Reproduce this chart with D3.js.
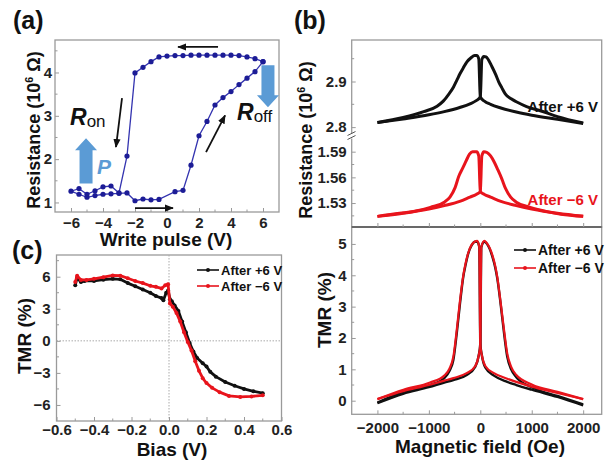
<!DOCTYPE html>
<html><head><meta charset="utf-8">
<script src="https://cdn.jsdelivr.net/npm/d3@7"></script>
<style>
body{margin:0;background:#fff}
text{font-family:"Liberation Sans",Arial,sans-serif;font-weight:bold}
</style>
</head><body>
<script>
// (a) write pulse loop, in sweep order
var pulseV = [6,5.5,5,4.5,4,3.5,3,2.5,2,1.5,1,0.5,0,-0.5,-1,-1.5,-2,-2.5,-3,-3.5,-4,-4.5,-5,-5.5,-6,
  -5.5,-5,-4.5,-4,-3.5,-3,-2.5,-2,-1.5,-1,-0.5,0.5,1,1.5,2,2.5,3,3.5,4,4.5,5,5.5,6];
var pulseR = [4.25,4.32,4.36,4.39,4.40,4.40,4.40,4.40,4.40,4.40,4.39,4.39,4.38,4.36,4.25,4.12,3.99,2.07,1.22,1.38,1.36,1.27,1.19,1.32,1.26,
  1.19,1.12,1.16,1.19,1.2,1.21,1.22,1.04,1.08,1.06,1.07,1.25,1.28,1.86,2.54,2.87,3.25,3.42,3.56,3.72,3.87,4.02,4.25];
var pulseTicks = [-6,-4,-2,0,2,4,6];
var resTicksA = [1,2,3,4];

// (b) resistance vs field, [H (Oe), R (10^6 ohm)]
var resPlusDown = [[2000,2.808],[1500,2.817],[1000,2.826],[700,2.833],[400,2.842],[200,2.850],[80,2.857],[0,2.866],[-30,2.950],[-70,2.957],[-110,2.957],[-180,2.952],[-260,2.943],[-330,2.930],[-390,2.918],[-455,2.903],[-520,2.888],[-615,2.872],[-720,2.857],[-840,2.846],[-1100,2.834],[-1500,2.821],[-2000,2.810]];
var resPlusUp = [[-2000,2.810],[-1500,2.818],[-1000,2.827],[-700,2.834],[-400,2.843],[-200,2.851],[-80,2.858],[0,2.866],[30,2.948],[70,2.955],[110,2.954],[225,2.933],[300,2.915],[355,2.900],[420,2.886],[485,2.873],[600,2.862],[710,2.855],[900,2.845],[1165,2.836],[1500,2.823],[2000,2.809]];
var resMinusDown = [[2000,1.5145],[1500,1.518],[1000,1.523],[700,1.527],[400,1.532],[200,1.537],[80,1.540],[0,1.5435],[-30,1.585],[-70,1.590],[-150,1.590],[-210,1.587],[-270,1.580],[-340,1.571],[-420,1.561],[-490,1.548],[-590,1.537],[-700,1.531],[-970,1.525],[-1300,1.520],[-1570,1.518],[-2000,1.5144]];
var resMinusUp = [[-2000,1.5144],[-1500,1.518],[-1000,1.523],[-700,1.527],[-400,1.532],[-200,1.537],[-80,1.540],[0,1.5435],[30,1.585],[70,1.590],[130,1.589],[200,1.585],[270,1.578],[340,1.569],[420,1.558],[490,1.547],[590,1.537],[700,1.531],[970,1.525],[1300,1.520],[1570,1.517],[2000,1.5145]];
var resTicksUp = [2.8,2.9];
var resTicksLo = [1.53,1.56,1.59];

// (b) TMR vs field, [H (Oe), TMR (%)]
var tmrPlusDown = [[2000,-0.15],[1500,0.12],[1000,0.35],[700,0.5],[524,0.6],[265,0.8],[100,1.05],[30,1.45],[0,1.83],[-20,4.9],[-60,5.07],[-103,5.07],[-170,4.95],[-233,4.7],[-290,4.3],[-330,3.96],[-394,3.11],[-458,2.15],[-524,1.3],[-600,0.95],[-700,0.72],[-976,0.5],[-1495,0.28],[-2000,-0.06]];
var tmrPlusUp = [[-2000,-0.08],[-1500,0.22],[-1000,0.43],[-700,0.58],[-524,0.66],[-265,0.82],[-100,1.08],[-30,1.45],[0,1.83],[20,4.9],[80,5.07],[120,5.02],[180,4.85],[233,4.6],[290,4.25],[330,3.9],[394,3.1],[458,2.2],[524,1.4],[600,1.0],[700,0.75],[1000,0.43],[1500,0.15],[2000,-0.12]];
var tmrMinusDown = [[2000,0.05],[1500,0.25],[1000,0.45],[700,0.6],[524,0.7],[265,0.88],[100,1.1],[30,1.45],[0,1.8],[-20,4.9],[-60,5.1],[-103,5.08],[-170,4.97],[-233,4.72],[-290,4.35],[-330,4.0],[-394,3.2],[-458,2.25],[-524,1.4],[-600,1.02],[-700,0.8],[-976,0.58],[-1495,0.35],[-2000,0.05]];
var tmrMinusUp = [[-2000,0.05],[-1500,0.3],[-1000,0.5],[-700,0.64],[-524,0.72],[-265,0.88],[-100,1.1],[-30,1.45],[0,1.8],[20,4.9],[80,5.1],[120,5.04],[180,4.88],[233,4.65],[290,4.3],[330,3.95],[394,3.15],[458,2.3],[524,1.5],[600,1.08],[700,0.82],[1000,0.52],[1500,0.28],[2000,0.05]];
var fieldTicks = [-2000,-1000,0,1000,2000];
var tmrTicksB = [0,1,2,3,4,5];

// (c) TMR vs bias, [V, %]
var biasPlus = [[-0.5,5.2],[-0.49,5.9],[-0.47,5.5],[-0.45,5.6],[-0.4,5.6],[-0.35,5.72],[-0.3,5.8],[-0.26,5.75],[-0.22,5.4],[-0.18,5.1],[-0.14,4.8],[-0.1,4.5],[-0.07,4.2],[-0.04,4.0],[-0.03,3.8],[-0.015,4.5],[-0.005,4.7],[0.005,3.9],[0.015,3.7],[0.03,3.3],[0.05,2.8],[0.07,1.8],[0.09,0.8],[0.11,-0.2],[0.13,-1.0],[0.15,-1.6],[0.18,-2.1],[0.2,-2.4],[0.22,-2.9],[0.25,-3.35],[0.3,-3.85],[0.35,-4.2],[0.4,-4.5],[0.45,-4.72],[0.5,-4.9]];
var biasMinus = [[-0.5,5.5],[-0.49,6.1],[-0.47,5.7],[-0.44,5.7],[-0.4,5.8],[-0.35,5.95],[-0.3,6.12],[-0.26,6.1],[-0.22,5.85],[-0.18,5.6],[-0.14,5.4],[-0.1,5.15],[-0.07,5.05],[-0.04,4.9],[-0.02,5.2],[-0.005,5.3],[0.005,3.5],[0.02,3.2],[0.04,2.6],[0.06,1.8],[0.08,0.8],[0.1,-0.1],[0.12,-0.9],[0.14,-1.9],[0.16,-2.8],[0.18,-3.5],[0.2,-3.95],[0.23,-4.4],[0.27,-4.8],[0.32,-5.15],[0.38,-5.25],[0.44,-5.2],[0.5,-5.1]];
var biasTicks = [-0.6,-0.4,-0.2,0,0.2,0.4,0.6];
var tmrTicksC = [-6,-3,0,3,6];

var legendNames = ["After +6 V", "After \u22126 V"];
var colBlack = "#111", colRed = "#e8141c", colBlue = "#1c1c96", colArrow = "#5b9bd5";

var svg = d3.select("body").append("svg").attr("width", 615).attr("height", 464);
var fmtInt = function(v){ return d3.format("d")(v).replace("-", "\u2212"); };

function frame(x0, y0, x1, y1) {
  svg.append("rect").attr("x", x0).attr("y", y0).attr("width", x1 - x0).attr("height", y1 - y0)
    .attr("fill", "none").attr("stroke", "#9a9a9a").attr("stroke-width", 1.3);
}
function ticks(axis, g, pad, fs) {
  g.call(axis.tickSize(-4).tickPadding(pad));
  g.select(".domain").remove();
  g.selectAll("line").attr("stroke", "#9a9a9a");
  g.selectAll("text").attr("font-size", fs || 15).attr("fill", "#222").style("font-weight", "bold");
}
function minor(scale, vals, orient, pos) {
  vals.forEach(function(v) {
    var p = scale(v);
    if (orient === "x") svg.append("line").attr("x1", p).attr("x2", p).attr("y1", pos).attr("y2", pos - 2.5).attr("stroke", "#9a9a9a");
    else svg.append("line").attr("y1", p).attr("y2", p).attr("x1", pos).attr("x2", pos + 2.5).attr("stroke", "#9a9a9a");
  });
}
function label(x, y, size, rot) {
  return svg.append("text").attr("font-size", size).attr("text-anchor", "middle").attr("fill", "#111")
    .attr("transform", "translate(" + x + "," + y + ")" + (rot ? " rotate(-90)" : ""));
}
function resLabel(x, y, size) {
  var t = label(x, y, size, true);
  t.append("tspan").text("Resistance (10");
  t.append("tspan").text("6").attr("dy", -7).attr("font-size", size * 0.6);
  t.append("tspan").text(" \u03a9)").attr("dy", 7);
}
svg.append("defs").append("marker").attr("id", "ah").attr("viewBox", "0 0 10 10").attr("refX", 9).attr("refY", 5)
  .attr("markerWidth", 5).attr("markerHeight", 5).attr("orient", "auto")
  .append("path").attr("d", "M0,1 L10,5 L0,9 Z").attr("fill", "#111");

// ---------- (a) ----------
var xa = d3.scaleLinear().domain([-7, 7]).range([55, 279]);
var ya = d3.scaleLinear().domain([0.78, 4.75]).range([212, 40]);
frame(55, 40, 279, 212);
ticks(d3.axisBottom(xa).tickValues(pulseTicks).tickFormat(fmtInt), svg.append("g").attr("transform", "translate(0,212)"), 5);
ticks(d3.axisLeft(ya).tickValues(resTicksA).tickFormat(fmtInt), svg.append("g").attr("transform", "translate(55,0)"), 3);
minor(xa, [-5,-3,-1,1,3,5], "x", 212);
minor(ya, [1.5,2.5,3.5,4.5], "y", 55);

var pulsePts = pulseV.map(function(v, i){ return [v, pulseR[i]]; });
svg.append("path").datum(pulsePts).attr("fill", "none").attr("stroke", "#3434b0").attr("stroke-width", 1.3)
  .attr("d", d3.line().x(function(d){ return xa(d[0]); }).y(function(d){ return ya(d[1]); }));
svg.append("g").selectAll("circle").data(pulsePts).enter().append("circle")
  .attr("cx", function(d){ return xa(d[0]); }).attr("cy", function(d){ return ya(d[1]); })
  .attr("r", 2.6).attr("fill", colBlue);

// black sweep arrows
[[3.19,4.59,0.69,4.59],[-2,0.87,0.375,0.87],[-2.81,3.41,-3.19,2.28],[2.44,2.16,3.63,3.01]].forEach(function(a){
  svg.append("line").attr("x1", xa(a[0])).attr("y1", ya(a[1])).attr("x2", xa(a[2])).attr("y2", ya(a[3]))
    .attr("stroke", "#111").attr("stroke-width", 1.8).attr("marker-end", "url(#ah)");
});
// fat blue arrows
function fatArrow(xc, yFrom, yTo) {
  var x = xa(xc), y0 = ya(yFrom), y1 = ya(yTo), dir = y1 < y0 ? -1 : 1, hl = 12;
  var pts = [[x-6.5,y0],[x+6.5,y0],[x+6.5,y1-dir*hl],[x+11,y1-dir*hl],[x,y1],[x-11,y1-dir*hl],[x-6.5,y1-dir*hl]];
  svg.append("polygon").attr("points", pts.map(function(p){ return p.join(","); }).join(" ")).attr("fill", colArrow);
}
fatArrow(-5.06, 1.44, 2.48);
fatArrow(6.31, 4.17, 3.2);
var ron = svg.append("text").attr("x", 70).attr("y", 125).attr("font-size", 23).attr("fill", "#111");
ron.append("tspan").text("R").style("font-style", "italic");
ron.append("tspan").text("on").attr("dy", 2).attr("font-size", 17).style("font-weight", "normal");
var roff = svg.append("text").attr("x", 237).attr("y", 120).attr("font-size", 23).attr("fill", "#111");
roff.append("tspan").text("R").style("font-style", "italic");
roff.append("tspan").text("off").attr("dy", 2).attr("font-size", 17).style("font-weight", "normal");
svg.append("text").attr("x", 97).attr("y", 174).attr("font-size", 21).attr("fill", colArrow).style("font-style", "italic").text("P");

resLabel(40, 130, 18);
label(166, 246, 19, false).text("Write pulse (V)");

// ---------- (b) ----------
var xb = d3.scaleLinear().domain([-2500, 2360]).range([351.7, 601.7]);
var ybUp = d3.scaleLinear().domain([2.779, 2.991]).range([136.7, 40]);
var ybLo = d3.scaleLinear().domain([1.502, 1.6075]).range([227, 136.7]);
var ybT = d3.scaleLinear().domain([-0.434, 5.54]).range([414.3, 227]);
frame(351.7, 40, 601.7, 227);
frame(351.7, 227, 601.7, 414.3);
svg.append("line").attr("x1", 351.7).attr("x2", 601.7).attr("y1", 227).attr("y2", 227).attr("stroke", "#555").attr("stroke-width", 1.5);
ticks(d3.axisLeft(ybUp).tickValues(resTicksUp).tickFormat(d3.format(".1f")), svg.append("g").attr("transform", "translate(351.7,0)"), 5);
ticks(d3.axisLeft(ybLo).tickValues(resTicksLo).tickFormat(d3.format(".2f")), svg.append("g").attr("transform", "translate(351.7,0)"), 5);
ticks(d3.axisLeft(ybT).tickValues(tmrTicksB).tickFormat(fmtInt), svg.append("g").attr("transform", "translate(351.7,0)"), 5);
ticks(d3.axisBottom(xb).tickValues(fieldTicks).tickFormat(fmtInt), svg.append("g").attr("transform", "translate(0,414.3)"), 8);
ticks(d3.axisBottom(xb).tickValues(fieldTicks).tickFormat(""), svg.append("g").attr("transform", "translate(0,227)"), 4);
minor(xb, [-1500,-500,500,1500], "x", 414.3);
minor(xb, [-1500,-500,500,1500], "x", 227);
minor(ybUp, [2.85, 2.95], "y", 351.7);
minor(ybLo, [1.515, 1.545, 1.575], "y", 351.7);
minor(ybT, [0.5,1.5,2.5,3.5,4.5], "y", 351.7);
// axis break marks
svg.append("rect").attr("x", 347).attr("y", 133.5).attr("width", 9).attr("height", 5).attr("fill", "#fff");
[133, 137].forEach(function(y){
  svg.append("line").attr("x1", 347.5).attr("x2", 355.5).attr("y1", y + 2.5).attr("y2", y - 1.5).attr("stroke", "#555").attr("stroke-width", 1);
});

function curve(data, xs, ys, col, w) {
  svg.append("path").datum(data).attr("fill", "none").attr("stroke", col).attr("stroke-width", w)
    .attr("stroke-linejoin", "round")
    .attr("d", d3.line().curve(d3.curveMonotoneX).x(function(d){ return xs(d[0]); }).y(function(d){ return ys(d[1]); }));
}
[resPlusDown, resPlusUp].forEach(function(d){ curve(d, xb, ybUp, colBlack, 3); });
[resMinusDown, resMinusUp].forEach(function(d){ curve(d, xb, ybLo, colRed, 3); });
[tmrPlusDown, tmrPlusUp].forEach(function(d){ curve(d, xb, ybT, colBlack, 2.4); });
[tmrMinusDown, tmrMinusUp].forEach(function(d){ curve(d, xb, ybT, colRed, 2.2); });
svg.append("text").attr("x", 598).attr("y", 112).attr("text-anchor", "end").attr("font-size", 15).attr("fill", "#111").text(legendNames[0]);
svg.append("text").attr("x", 598).attr("y", 205).attr("text-anchor", "end").attr("font-size", 15).attr("fill", colRed).text(legendNames[1]);

function legend(x, y, gap, fs) {
  [colBlack, colRed].forEach(function(c, i){
    var yy = y + i * gap;
    svg.append("line").attr("x1", x).attr("x2", x + 22).attr("y1", yy).attr("y2", yy).attr("stroke", c).attr("stroke-width", 1.6);
    svg.append("circle").attr("cx", x + 11).attr("cy", yy).attr("r", 2).attr("fill", c);
    svg.append("text").attr("x", x + 24).attr("y", yy + 5).attr("font-size", fs).attr("fill", "#111").text(legendNames[i]);
  });
}
legend(514, 250, 18, 14);

resLabel(312, 140, 18);
label(331, 310, 19, true).text("TMR (%)");
label(480, 453, 19, false).text("Magnetic field (Oe)");

// ---------- (c) ----------
var xc = d3.scaleLinear().domain([-0.6, 0.6]).range([56.5, 281.5]);
var yc = d3.scaleLinear().domain([-7.5, 8.03]).range([421, 255]);
frame(56.5, 255, 281.5, 421);
svg.append("line").attr("x1", 56.5).attr("x2", 281.5).attr("y1", yc(0)).attr("y2", yc(0)).attr("stroke", "#aaa").attr("stroke-dasharray", "1.5,1.5");
svg.append("line").attr("x1", xc(0)).attr("x2", xc(0)).attr("y1", 255).attr("y2", 421).attr("stroke", "#aaa").attr("stroke-dasharray", "1.5,1.5");
ticks(d3.axisBottom(xc).tickValues(biasTicks).tickFormat(function(v){ return d3.format(".1f")(v).replace("-", "\u2212"); }), svg.append("g").attr("transform", "translate(0,421)"), 3);
ticks(d3.axisLeft(yc).tickValues(tmrTicksC).tickFormat(fmtInt), svg.append("g").attr("transform", "translate(56.5,0)"), 6);
minor(xc, [-0.5,-0.3,-0.1,0.1,0.3,0.5], "x", 421);
minor(yc, [-4.5,-1.5,1.5,4.5,7.5], "y", 56.5);

[[biasPlus, colBlack], [biasMinus, colRed]].forEach(function(s){
  svg.append("path").datum(s[0]).attr("fill", "none").attr("stroke", s[1]).attr("stroke-width", 2.8)
    .attr("stroke-linejoin", "round")
    .attr("d", d3.line().x(function(d){ return xc(d[0]); }).y(function(d){ return yc(d[1]); }));
  svg.append("g").selectAll("circle").data(s[0]).enter().append("circle")
    .attr("cx", function(d){ return xc(d[0]); }).attr("cy", function(d){ return yc(d[1]); })
    .attr("r", 2).attr("fill", s[1]);
});
legend(197, 270, 16, 13);
label(31, 336, 19, true).text("TMR (%)");
label(172, 456, 19, false).text("Bias (V)");

// panel letters
svg.append("text").attr("x", 13).attr("y", 29).attr("font-size", 25).attr("fill", "#111").text("(a)");
svg.append("text").attr("x", 294).attr("y", 29).attr("font-size", 25).attr("fill", "#111").text("(b)");
svg.append("text").attr("x", 12).attr("y", 259).attr("font-size", 25).attr("fill", "#111").text("(c)");
</script>
</body></html>
